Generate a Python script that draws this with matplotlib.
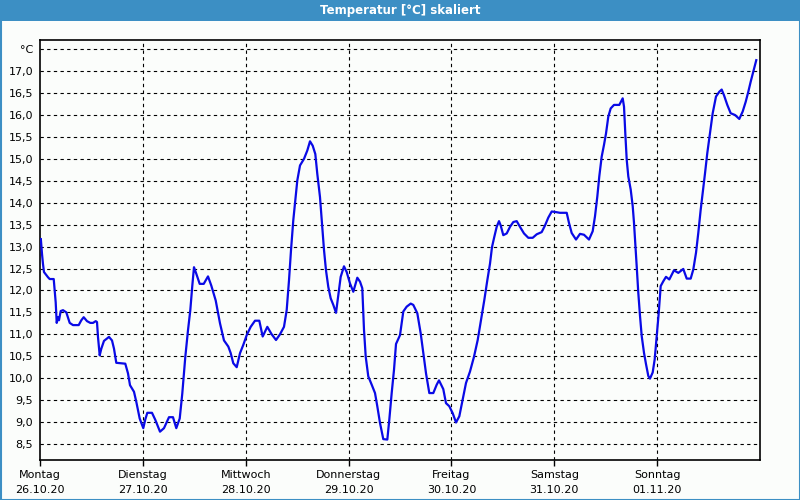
import matplotlib
matplotlib.use("Agg")
import matplotlib.pyplot as plt
from matplotlib.patches import Rectangle

# hours since Monday 26.10.20 00:00, temperature in °C
hours = [
    0.2, 0.47, 0.7, 0.93, 1.87, 2.26, 3.2, 3.43, 3.66, 3.9, 4.2, 4.43, 4.83,
    5.37, 6.14, 6.93, 7.7, 9.03, 9.64, 10.2, 10.97, 11.74, 12.37, 13.0, 13.3,
    13.53, 13.93, 14.3, 14.93, 16.1, 16.8, 17.27, 17.8, 19.9, 20.53, 21.0,
    21.93, 22.47, 23.26, 24.1, 24.57, 25.04, 26.13, 26.9, 28.0, 28.93, 30.1,
    31.03, 31.8, 32.6, 33.2, 33.9, 34.53, 35.07, 35.54, 35.93, 36.47, 37.26,
    38.2, 39.2, 39.97, 41.0, 41.53, 42.0, 42.93, 43.94, 44.5, 45.1, 45.9,
    46.67, 47.44, 48.23, 49.16, 50.17, 51.17, 51.96, 52.5, 53.04, 54.06,
    55.07, 56.0, 56.93, 57.56, 58.1, 58.57, 59.1, 59.57, 60.04, 60.67, 61.6,
    62.37, 63.0, 63.63, 64.24, 64.7, 65.33, 65.8, 66.27, 66.73, 67.27, 67.83,
    68.44, 69.07, 69.6, 70.16, 70.93, 71.56, 72.33, 73.1, 73.66, 74.04, 74.67,
    75.2, 75.6, 76.0, 76.6, 77.4, 78.17, 78.7, 79.33, 80.1, 81.04, 81.5,
    82.06, 82.6, 83.07, 84.0, 84.77, 85.56, 86.5, 87.1, 88.04, 88.83, 89.44,
    90.07, 90.84, 91.77, 92.56, 93.1, 94.1, 94.73, 95.5, 96.3, 97.07, 97.84,
    98.63, 99.4, 100.33, 101.27, 102.13, 102.9, 103.67, 104.37, 105.0, 105.47,
    106.0, 106.56, 107.1, 107.5, 108.1, 108.9, 109.67, 110.44, 111.23, 112.0,
    112.93, 113.94, 114.96, 115.9, 117.06, 117.83, 118.6, 119.4, 120.17,
    121.33, 122.9, 123.43, 124.06, 125.07, 126.0, 126.93, 128.1, 128.96,
    129.5, 130.04, 130.5, 131.06, 131.6, 132.07, 132.6, 133.16, 133.93,
    135.17, 135.96, 136.27, 136.57, 136.9, 137.27, 137.83, 138.3, 138.6,
    138.9, 139.23, 139.6, 140.0, 140.4, 140.93, 141.4, 141.94, 142.33,
    142.96, 143.43, 143.9, 144.37, 144.83, 145.44, 146.07, 146.84, 147.4,
    147.93, 148.94, 150.1, 150.9, 151.83, 152.44, 153.07, 153.6, 154.16,
    154.63, 155.17, 155.7, 156.33, 156.96, 157.73, 158.5, 159.06, 159.6,
    160.37, 161.16, 162.17, 163.17, 163.96, 164.66, 165.27, 165.83, 166.5,
    167.13,
]
temps = [
    13.17, 12.83, 12.6, 12.42, 12.3, 12.26, 12.26, 12.0, 11.73, 11.26, 11.39,
    11.32, 11.53, 11.55, 11.5, 11.26, 11.21, 11.21, 11.32, 11.39, 11.3, 11.26,
    11.26, 11.3, 11.28, 10.94, 10.52, 10.67, 10.85, 10.94, 10.86, 10.67,
    10.35, 10.33, 10.11, 9.84, 9.69, 9.46, 9.08, 8.86, 9.06, 9.21, 9.21,
    9.05, 8.78, 8.86, 9.11, 9.11, 8.86, 9.08, 9.65, 10.48, 11.09, 11.55,
    12.11, 12.53, 12.38, 12.15, 12.15, 12.32, 12.11, 11.77, 11.5, 11.25,
    10.86, 10.72, 10.57, 10.34, 10.25, 10.57, 10.76, 10.98, 11.17, 11.31,
    11.31, 10.95, 11.06, 11.17, 11.0, 10.87, 11.0, 11.17, 11.55, 12.23,
    12.92, 13.6, 14.05, 14.51, 14.85, 15.0, 15.19, 15.4, 15.3, 15.11, 14.66,
    14.13, 13.52, 12.92, 12.46, 12.08, 11.82, 11.67, 11.49, 11.89, 12.31,
    12.55, 12.42, 12.16, 11.97, 12.16, 12.29, 12.2, 12.05, 11.1, 10.49,
    10.04, 9.85, 9.66, 9.36, 8.98, 8.61, 8.6, 9.05, 9.66, 10.19, 10.78,
    10.98, 11.52, 11.63, 11.7, 11.67, 11.48, 11.02, 10.57, 10.11, 9.66, 9.66,
    9.85, 9.95, 9.75, 9.43, 9.36, 9.2, 8.99, 9.13, 9.51, 9.89, 10.15, 10.49,
    10.87, 11.33, 11.78, 12.23, 12.61, 12.99, 13.22, 13.45, 13.58, 13.48,
    13.26, 13.3, 13.45, 13.56, 13.58, 13.45, 13.3, 13.2, 13.2, 13.28, 13.33,
    13.48, 13.66, 13.8, 13.79, 13.77, 13.77, 13.54, 13.31, 13.16, 13.29,
    13.27, 13.16, 13.35, 13.69, 14.14, 14.6, 15.05, 15.32, 15.58, 15.96,
    16.15, 16.23, 16.23, 16.38, 16.19, 15.58, 14.98, 14.6, 14.3, 13.92,
    13.54, 13.08, 12.55, 11.95, 11.42, 10.96, 10.58, 10.32, 10.05, 9.99,
    10.13, 10.43, 10.96, 11.49, 12.1, 12.21, 12.31, 12.25, 12.36, 12.46,
    12.4, 12.49, 12.27, 12.27, 12.48, 12.86, 13.31, 13.84, 14.22, 14.67,
    15.13, 15.58, 16.04, 16.42, 16.53, 16.58, 16.45, 16.23, 16.04, 16.0,
    15.91, 16.08, 16.3, 16.53, 16.76, 17.01, 17.25,
]

day_names = ["Montag", "Dienstag", "Mittwoch", "Donnerstag", "Freitag", "Samstag", "Sonntag"]
day_dates = ["26.10.20", "27.10.20", "28.10.20", "29.10.20", "30.10.20", "31.10.20", "01.11.20"]
y_ticks = [8.5, 9.0, 9.5, 10.0, 10.5, 11.0, 11.5, 12.0, 12.5, 13.0,
           13.5, 14.0, 14.5, 15.0, 15.5, 16.0, 16.5, 17.0, 17.5]

frame_blue = "#3c8fc4"

fig = plt.figure(figsize=(8, 5), dpi=100)
fig.patch.set_facecolor("#fbfdfb")

# title bar and window border
fig.patches.append(Rectangle((0, 1 - 21 / 500), 1, 21 / 500, transform=fig.transFigure,
                             facecolor=frame_blue, edgecolor="none", zorder=0))
fig.patches.append(Rectangle((0.5 / 800, 0.5 / 500), 799 / 800, 499 / 500, transform=fig.transFigure,
                             facecolor="none", edgecolor=frame_blue, linewidth=1.5, zorder=5))
fig.text(0.5, 1 - 10.5 / 500, "Temperatur [°C] skaliert", color="white",
         fontsize=8.5, fontweight="bold", ha="center", va="center")

ax = fig.add_axes([40 / 800, 40 / 500, 720 / 800, 420 / 500])
ax.set_facecolor("#fbfdfb")

ax.plot([h / 24 for h in hours], temps, color="#0a0ae6", linewidth=1.6, zorder=3)

ax.set_xlim(0, 7)
ax.set_ylim(8.134, 17.71)

ax.set_xticks(range(7))
ax.set_xticklabels([n + "\n" + d for n, d in zip(day_names, day_dates)],
                   fontsize=8, linespacing=1.6)
ax.set_yticks(y_ticks)
ax.set_yticklabels([("%.1f" % v).replace(".", ",") for v in y_ticks[:-1]] + ["°C"],
                   fontsize=8)

ax.tick_params(axis="x", length=4, width=1, direction="out", pad=3)
ax.tick_params(axis="y", length=0, pad=5)

for v in y_ticks:
    ax.axhline(v, color="black", linewidth=0.8, linestyle=(0, (3, 3)), zorder=1)
for d in range(1, 7):
    ax.axvline(d, color="black", linewidth=0.8, linestyle=(0, (3, 3)), zorder=1)

for s in ax.spines.values():
    s.set_linewidth(1.2)
    s.set_color("black")

fig.savefig("out.png", dpi=100, facecolor=fig.get_facecolor())
